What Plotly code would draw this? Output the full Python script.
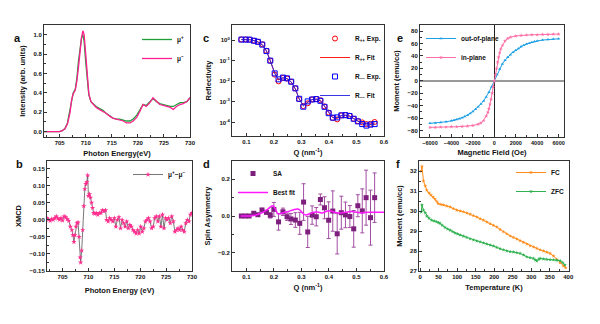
import plotly.graph_objects as go

# ---------------- data ----------------
# panel a : XAS
xas_E = [702, 703, 704, 705, 705.5, 706, 706.5, 707, 707.3, 707.6, 708, 708.3, 708.6, 708.9, 709.2, 709.45, 709.7, 710, 710.3, 710.6, 711, 711.5, 712, 712.6, 713.3, 713.9, 714.6, 715.2, 715.9, 716.5, 717.2, 717.8, 718.5, 719.1, 719.8, 720.4, 721, 721.6, 722.3, 722.9, 723.6, 724.2, 724.9, 725.5, 726.2, 726.8, 727.4, 728.1, 728.7, 729.4, 730]
xas_plus = [0.0, 0.0, 0.0, 0.0, 0.01, 0.03, 0.09, 0.22, 0.33, 0.40, 0.44, 0.55, 0.72, 0.88, 0.97, 1.0, 0.93, 0.72, 0.52, 0.38, 0.31, 0.28, 0.26, 0.24, 0.22, 0.19, 0.16, 0.14, 0.13, 0.13, 0.12, 0.11, 0.11, 0.13, 0.17, 0.22, 0.28, 0.27, 0.31, 0.34, 0.31, 0.29, 0.28, 0.27, 0.26, 0.26, 0.28, 0.30, 0.30, 0.31, 0.35]
xas_minus = [0.0, 0.0, 0.0, 0.0, 0.01, 0.03, 0.08, 0.20, 0.33, 0.39, 0.43, 0.52, 0.66, 0.84, 0.97, 1.04, 1.0, 0.8, 0.56, 0.39, 0.31, 0.28, 0.25, 0.23, 0.21, 0.19, 0.16, 0.14, 0.13, 0.12, 0.11, 0.09, 0.09, 0.11, 0.15, 0.21, 0.28, 0.26, 0.30, 0.35, 0.31, 0.28, 0.27, 0.26, 0.25, 0.23, 0.26, 0.28, 0.29, 0.31, 0.35]

# panel b : XMCD
xmcd_E = [702.0, 702.3, 702.6, 702.9, 703.2, 703.5, 703.8, 704.1, 704.4, 704.7, 705.0, 705.3, 705.6, 705.9, 706.2, 706.5, 706.8, 707.0, 707.2, 707.4, 707.6, 707.8, 708.0, 708.2, 708.4, 708.5, 708.7, 708.9, 709.1, 709.3, 709.5, 709.7, 709.85, 710.0, 710.2, 710.4, 710.6, 710.8, 711.0, 711.2, 711.5, 711.8, 712.1, 712.4, 712.7, 713.0, 713.3, 713.5, 713.8, 714.1, 714.4, 714.7, 715.0, 715.3, 715.6, 715.9, 716.2, 716.5, 716.8, 717.1, 717.4, 717.7, 718.0, 718.3, 718.6, 718.9, 719.2, 719.5, 719.8, 720.1, 720.4, 720.7, 721.0, 721.3, 721.6, 721.9, 722.2, 722.5, 722.8, 723.1, 723.4, 723.7, 724.0, 724.3, 724.6, 724.9, 725.2, 725.5, 725.8, 726.1, 726.4, 726.7, 727.0, 727.3, 727.6, 727.9, 728.2, 728.5, 728.8, 729.1, 729.4, 729.7, 730.0]
xmcd_val = [0.005, 0.0, -0.003, 0.002, 0.0, 0.005, 0.01, 0.004, 0.0, 0.005, -0.002, 0.01, 0.008, 0.002, -0.003, -0.02, -0.03, -0.045, -0.065, -0.045, -0.02, -0.01, -0.008, -0.05, -0.11, -0.125, -0.09, -0.03, 0.04, 0.09, 0.105, 0.11, 0.13, 0.07, 0.075, 0.065, 0.05, 0.035, 0.02, 0.018, 0.02, 0.015, 0.02, 0.02, 0.028, 0.025, 0.028, 0.0, -0.005, 0.005, 0.0, -0.005, 0.005, -0.02, 0.0, 0.008, -0.025, 0.0, -0.01, -0.02, -0.005, -0.025, -0.015, -0.02, -0.03, -0.035, -0.04, -0.03, -0.04, -0.02, -0.035, -0.025, -0.005, 0.0, 0.005, -0.005, -0.025, -0.02, 0.005, 0.01, -0.005, 0.01, -0.02, 0.015, -0.025, 0.005, 0.0, 0.005, -0.01, 0.01, -0.005, -0.035, -0.03, -0.025, -0.03, -0.02, -0.03, -0.035, -0.01, 0.0, -0.005, 0.015, 0.02]

# panel c : reflectivity
refl_Q = [0.082, 0.098, 0.112, 0.128, 0.142, 0.158, 0.173, 0.187, 0.203, 0.217, 0.233, 0.248, 0.263, 0.278, 0.292, 0.307, 0.323, 0.339, 0.354, 0.369, 0.384, 0.399, 0.414, 0.430, 0.445, 0.460, 0.475, 0.490, 0.505, 0.521, 0.536, 0.551, 0.566]
refl_pp_exp = [1.07, 1.07, 1.05, 0.93, 0.83, 0.62, 0.30, 0.10, 0.021, 0.0098, 0.0145, 0.0135, 0.0095, 0.0045, 0.00135, 0.00062, 0.00085, 0.00130, 0.00138, 0.00120, 0.00060, 0.00030, 0.000165, 0.000140, 0.000220, 0.000230, 0.000210, 0.000150, 0.000115, 0.000100, 0.000083, 0.000085, 0.000105]
refl_pp_fit = [1.07, 1.07, 1.04, 0.94, 0.82, 0.60, 0.30, 0.10, 0.024, 0.0115, 0.0145, 0.0130, 0.0092, 0.0042, 0.00140, 0.00068, 0.00090, 0.00128, 0.00136, 0.00118, 0.00062, 0.00030, 0.000170, 0.000155, 0.000210, 0.000225, 0.000205, 0.000155, 0.000118, 0.000098, 0.000085, 0.000086, 0.000095]
refl_mm_exp = [1.05, 1.05, 1.04, 0.92, 0.82, 0.60, 0.29, 0.10, 0.024, 0.0123, 0.0150, 0.0138, 0.0095, 0.0045, 0.00140, 0.00058, 0.00105, 0.00130, 0.00135, 0.00112, 0.00057, 0.00028, 0.000170, 0.000175, 0.000220, 0.000225, 0.000205, 0.000150, 0.000112, 0.000083, 0.000070, 0.000078, 0.000083]
refl_mm_fit = [1.05, 1.05, 1.03, 0.93, 0.80, 0.59, 0.29, 0.10, 0.025, 0.0120, 0.0148, 0.0135, 0.0093, 0.0043, 0.00140, 0.00062, 0.00100, 0.00130, 0.00134, 0.00113, 0.00060, 0.00029, 0.000172, 0.000170, 0.000215, 0.000222, 0.000200, 0.000150, 0.000114, 0.000088, 0.000074, 0.000078, 0.000085]

# panel d : spin asymmetry
sa_Q = [0.082, 0.096, 0.110, 0.127, 0.142, 0.157, 0.173, 0.187, 0.200, 0.217, 0.233, 0.248, 0.262, 0.278, 0.294, 0.308, 0.323, 0.339, 0.354, 0.369, 0.384, 0.399, 0.414, 0.430, 0.445, 0.460, 0.476, 0.490, 0.505, 0.521, 0.535, 0.551, 0.566]
sa_val = [0.0, 0.0, 0.0, 0.015, 0.007, 0.033, 0.02, 0.004, 0.036, -0.032, 0.023, -0.004, -0.016, -0.022, -0.04, 0.076, -0.087, 0.005, -0.004, 0.09, 0.045, -0.023, 0.027, -0.097, 0.018, 0.006, -0.003, -0.07, 0.056, 0.028, 0.1, -0.009, 0.1]
sa_err = [0.003, 0.003, 0.003, 0.006, 0.006, 0.008, 0.01, 0.015, 0.038, 0.045, 0.02, 0.02, 0.03, 0.04, 0.06, 0.1, 0.085, 0.05, 0.05, 0.03, 0.06, 0.1, 0.11, 0.11, 0.09, 0.07, 0.06, 0.1, 0.06, 0.12, 0.15, 0.15, 0.135]
fit_Q = [0.08, 0.10, 0.12, 0.14, 0.16, 0.18, 0.19, 0.197, 0.205, 0.215, 0.23, 0.25, 0.27, 0.285, 0.295, 0.305, 0.315, 0.33, 0.345, 0.36, 0.375, 0.39, 0.40, 0.42, 0.44, 0.46, 0.48, 0.50, 0.52, 0.54, 0.57, 0.60]
fit_val = [0.0, 0.0, 0.001, 0.008, 0.02, 0.04, 0.052, 0.056, 0.04, 0.012, 0.016, 0.024, 0.033, 0.038, 0.032, 0.015, 0.006, 0.012, 0.02, 0.022, 0.016, 0.025, 0.028, 0.021, 0.016, 0.02, 0.024, 0.021, 0.017, 0.02, 0.02, 0.02]

# panel e : M-H loops
mh_H = [-6000, -5500, -5000, -4500, -4000, -3750, -3500, -3250, -3000, -2750, -2500, -2250, -2000, -1750, -1500, -1250, -1000, -750, -500, -250, 0, 250, 500, 750, 1000, 1250, 1500, 1750, 2000, 2250, 2500, 2750, 3000, 3250, 3500, 3750, 4000, 4500, 5000, 5500, 6000]
mh_oop = [-68.5, -68, -67, -66, -64.5, -63.5, -62.5, -61, -59.5, -57.5, -55.5, -52.5, -49.5, -46, -42, -37.5, -32.5, -26, -18.5, -9.5, 0, 10, 19, 27, 33, 38, 42, 46, 49, 52, 55, 57, 59, 60.5, 62, 63, 64, 65.5, 66.5, 67, 67.5]
mh_ip_H = [-6000, -5500, -5000, -4500, -4000, -3500, -3000, -2500, -2000, -1500, -1250, -1000, -750, -600, -500, -400, -300, -200, -100, 0, 100, 200, 300, 400, 500, 600, 750, 1000, 1250, 1500, 2000, 2500, 3000, 3500, 4000, 4500, 5000, 5500, 6000]
mh_ip = [-75, -75, -74.5, -74.5, -74, -74, -73.5, -73, -72, -70, -68, -64, -57, -51, -45, -38, -30, -20, -10, 0, 10, 20, 30, 38, 45, 51, 57, 64, 68, 70, 72, 73, 73.5, 74, 74, 74.5, 74.5, 75, 75]

# panel f : M-T
fc_T = [3, 5, 9, 14, 18, 24, 29, 35, 40, 45, 49, 56, 63, 72, 81, 90, 99, 108, 117, 126, 135, 144, 153, 162, 171, 180, 189, 198, 207, 216, 225, 234, 243, 252, 261, 270, 279, 288, 297, 306, 315, 324, 333, 342, 351, 360, 369, 378, 387, 393]
fc_M = [32.0, 32.23, 31.5, 31.25, 31.04, 30.9, 30.8, 30.7, 30.6, 30.48, 30.37, 30.33, 30.3, 30.25, 30.2, 30.12, 30.04, 30.0, 29.96, 29.9, 29.84, 29.77, 29.7, 29.62, 29.54, 29.45, 29.37, 29.28, 29.2, 29.08, 28.96, 28.86, 28.76, 28.68, 28.6, 28.52, 28.43, 28.35, 28.26, 28.2, 28.13, 28.06, 28.0, 27.94, 27.88, 27.75, 27.58, 27.42, 27.25, 27.17]
zfc_T = [3, 5, 9, 14, 18, 24, 31, 38, 45, 50, 54, 60, 67, 74, 81, 88, 94, 101, 108, 117, 126, 135, 144, 153, 162, 171, 180, 189, 198, 207, 216, 225, 234, 243, 252, 261, 270, 279, 288, 297, 306, 311, 315, 320, 324, 333, 342, 351, 360, 369, 378, 385, 391]
zfc_M = [29.95, 30.3, 30.04, 29.9, 29.74, 29.64, 29.54, 29.5, 29.46, 29.42, 29.38, 29.28, 29.18, 29.1, 29.04, 28.97, 28.9, 28.85, 28.8, 28.74, 28.68, 28.61, 28.55, 28.5, 28.46, 28.4, 28.35, 28.3, 28.25, 28.18, 28.12, 28.06, 28.0, 27.97, 27.95, 27.92, 27.88, 27.8, 27.71, 27.67, 27.63, 27.55, 27.5, 27.58, 27.63, 27.6, 27.58, 27.57, 27.56, 27.54, 27.52, 27.42, 27.3]

# ---------------- figure ----------------
FONT = "Arial, Liberation Sans, sans-serif"
AX = "#333333"

fig = go.Figure()

def add(tr, ax, leg):
    tr.update(xaxis="x" + ("" if ax == 1 else str(ax)), yaxis="y" + ("" if ax == 1 else str(ax)),
              legend="legend" + ("" if leg == 1 else str(leg)))
    fig.add_trace(tr)

# a
add(go.Scatter(x=xas_E, y=xas_plus, mode="lines", name="μ<sup>+</sup>", line=dict(color="#1f9e3a", width=1.3)), 1, 1)
add(go.Scatter(x=xas_E, y=xas_minus, mode="lines", name="μ<sup>−</sup>", line=dict(color="#ff1f8e", width=1.3)), 1, 1)
# b
add(go.Scatter(x=xmcd_E, y=xmcd_val, mode="lines+markers", name="μ<sup>+</sup>−μ<sup>−</sup>",
               line=dict(color="#555555", width=0.8), marker=dict(symbol="star", size=4, color="#ff2d8f")), 2, 2)
# c
add(go.Scatter(x=refl_Q, y=refl_pp_exp, mode="markers", name="R<sub>++</sub> Exp.",
               marker=dict(symbol="circle-open", size=5, color="#ff0000", line=dict(width=1))), 3, 3)
add(go.Scatter(x=refl_Q, y=refl_pp_fit, mode="lines", name="R<sub>++</sub> Fit", line=dict(color="#ff0000", width=0.9)), 3, 3)
add(go.Scatter(x=refl_Q, y=refl_mm_exp, mode="markers", name="R<sub>−−</sub> Exp.",
               marker=dict(symbol="square-open", size=5, color="#0000ff", line=dict(width=1))), 3, 3)
add(go.Scatter(x=refl_Q, y=refl_mm_fit, mode="lines", name="R<sub>−−</sub> Fit", line=dict(color="#2020e0", width=0.9)), 3, 3)
# d
add(go.Scatter(x=sa_Q, y=sa_val, mode="markers", name="SA",
               error_y=dict(type="data", array=sa_err, color="#a24ea2", thickness=1, width=2),
               marker=dict(symbol="square", size=5, color="#7d1f7d")), 4, 4)
add(go.Scatter(x=fit_Q, y=fit_val, mode="lines", name="Best fit", line=dict(color="#ff19ff", width=1.5, shape="spline")), 4, 4)
# e
add(go.Scatter(x=mh_H, y=mh_oop, mode="lines+markers", name="out-of-plane",
               line=dict(color="#1ea0e6", width=1), marker=dict(symbol="triangle-up", size=3, color="#1ea0e6")), 5, 5)
add(go.Scatter(x=mh_ip_H, y=mh_ip, mode="lines+markers", name="in-plane",
               line=dict(color="#ff6fa5", width=1), marker=dict(symbol="star", size=3, color="#ff6fa5")), 5, 5)
# f
add(go.Scatter(x=fc_T, y=fc_M, mode="lines+markers", name="FC",
               line=dict(color="#ff8c1a", width=1), marker=dict(symbol="star", size=3, color="#ff8c1a")), 6, 6)
add(go.Scatter(x=zfc_T, y=zfc_M, mode="lines+markers", name="ZFC",
               line=dict(color="#2fb14f", width=1), marker=dict(symbol="star", size=3, color="#2fb14f")), 6, 6)

tickf = dict(family=FONT, size=6, color="#111", weight="bold")
titf = dict(family=FONT, size=7.5, color="#111", weight="bold")

def axis(domain, anchor, rng, title, standoff, **kw):
    d = dict(domain=domain, anchor=anchor, range=rng, showline=True, linecolor=AX, linewidth=1,
             mirror=True, ticks="inside", ticklen=3, tickcolor=AX, showgrid=False, zeroline=False,
             tickfont=tickf, title=dict(text=title, font=titf, standoff=standoff), automargin=False)
    d.update(kw)
    return d

P = lambda px: px / 600.0
Q = lambda py: 1 - py / 324.0

lay = dict(
    width=600, height=324, margin=dict(l=0, r=0, t=0, b=0),
    paper_bgcolor="white", plot_bgcolor="white",
    font=dict(family=FONT, size=8, color="#111"),
)
# a
lay["xaxis"] = axis([P(44), P(190)], "y", [702, 730], "Photon Energy(eV)", 5, dtick=5, tick0=705, tickangle=0,
                    minor=dict(ticks="inside", ticklen=2, dtick=2.5, tick0=705, tickcolor=AX))
lay["yaxis"] = axis([Q(137), Q(25)], "x", [-0.055, 1.1], "Intensity (arb. units)", 6, dtick=0.2, tickformat=".1f",
                    minor=dict(ticks="inside", ticklen=2, dtick=0.1, tickcolor=AX))
# b
lay["xaxis2"] = axis([P(47), P(192)], "y2", [702, 730], "Photon Energy (eV)", 8, dtick=5, tick0=705, tickangle=0,
                     minor=dict(ticks="inside", ticklen=2, dtick=2.5, tick0=705, tickcolor=AX))
lay["yaxis2"] = axis([Q(271), Q(161)], "x2", [-0.15, 0.172], "XMCD", 6, dtick=0.05, tickformat=".2f",
                     minor=dict(ticks="inside", ticklen=2, dtick=0.025, tickcolor=AX))
# c
lay["xaxis3"] = axis([P(232), P(384)], "y3", [0.048, 0.6], "Q (nm<sup>-1</sup>)", 5, dtick=0.1, tick0=0.1, tickformat=".1f", tickangle=0,
                     minor=dict(ticks="inside", ticklen=2, dtick=0.05, tick0=0.1, tickcolor=AX))
lay["yaxis3"] = axis([Q(136), Q(25)], "x3", [-4.66, 0.73], "Reflectivity", 6, type="log",
                     tickvals=[1, 0.1, 0.01, 0.001, 0.0001],
                     ticktext=["10<sup>0</sup>", "10<sup>-1</sup>", "10<sup>-2</sup>", "10<sup>-3</sup>", "10<sup>-4</sup>"])
# d
lay["xaxis4"] = axis([P(232), P(384)], "y4", [0.048, 0.6], "Q (nm<sup>-1</sup>)", 5, dtick=0.1, tick0=0.1, tickformat=".1f", tickangle=0,
                     minor=dict(ticks="inside", ticklen=2, dtick=0.05, tick0=0.1, tickcolor=AX))
lay["yaxis4"] = axis([Q(271), Q(161)], "x4", [-0.3, 0.3], "Spin Asymmetry", 6, dtick=0.2, tickformat=".1f",
                     minor=dict(ticks="inside", ticklen=2, dtick=0.1, tickcolor=AX))
# e
lay["xaxis5"] = axis([P(420), P(564)], "y5", [-6930, 6500], "Magnetic Field (Oe)", 5, dtick=2000, tickangle=0,
                     tickfont=dict(family=FONT, size=5.5, color="#111", weight="bold"),
                     minor=dict(ticks="inside", ticklen=2, dtick=1000, tickcolor=AX),
                     zeroline=True, zerolinecolor="#222", zerolinewidth=1)
lay["yaxis5"] = axis([Q(137), Q(25)], "x5", [-90.5, 89.7], "Moment (emu/cc)", 6, dtick=20,
                     minor=dict(ticks="inside", ticklen=2, dtick=10, tickcolor=AX),
                     zeroline=True, zerolinecolor="#999", zerolinewidth=1.5)
# f
lay["xaxis6"] = axis([P(419), P(569)], "y6", [-3, 402], "Temperature (K)", 5, dtick=50, tickangle=0,
                     minor=dict(ticks="inside", ticklen=2, dtick=25, tickcolor=AX))
lay["yaxis6"] = axis([Q(271), Q(161)], "x6", [27, 32.5], "Moment (emu/cc)", 6, dtick=1,
                     minor=dict(ticks="inside", ticklen=2, dtick=0.5, tickcolor=AX))

legf = dict(family=FONT, size=6.5, color="#111", weight="bold")
def leg(x, y, xanchor="right"):
    return dict(x=x, y=y, xanchor=xanchor, yanchor="top", bgcolor="rgba(0,0,0,0)", borderwidth=0,
                font=legf, itemwidth=30, tracegroupgap=0, itemclick=False)

lay["legend"] = leg(P(189), Q(25))
lay["legend2"] = leg(P(191), Q(160))
lay["legend3"] = leg(P(386), Q(24))
lay["legend4"] = leg(P(233), Q(159), "left")
lay["legend5"] = leg(P(421), Q(24), "left")
lay["legend6"] = leg(P(569), Q(158))
lay["showlegend"] = True

fig.update_layout(**lay)

labels = [("a", 12, 30), ("b", 14, 164), ("c", 206, 30), ("d", 207, 164), ("e", 400, 30), ("f", 398, 164)]
for t, x, y in labels:
    fig.add_annotation(text="<b>%s</b>" % t, x=P(x), y=Q(y), xref="paper", yref="paper",
                       showarrow=False, font=dict(family=FONT, size=11, color="#111"))

fig.write_html("out.html")
